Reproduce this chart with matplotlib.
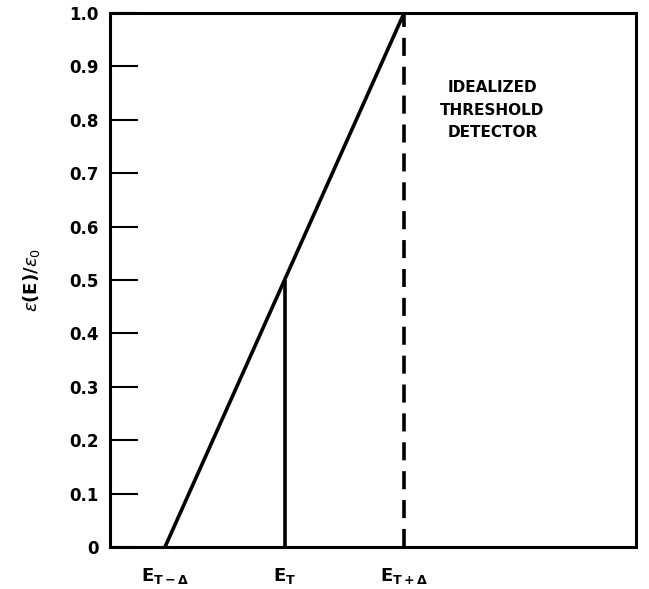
import matplotlib
matplotlib.use("Agg")
import matplotlib.pyplot as plt

# Energy axis in units of the resolution width, centred on the threshold E_T
energy_ticks = [-1.0, 0.0, 1.0]
energy_labels = [r"$\mathbf{E_{T-\Delta}}$", r"$\mathbf{E_T}$", r"$\mathbf{E_{T+\Delta}}$"]

# Linear (real) detector response
ramp_energy = [-1.0, 1.0]
ramp_eff = [0.0, 1.0]

# Threshold marker at E_T
thresh_energy = [0.0, 0.0]
thresh_eff = [0.0, 0.5]

# Idealized step detector edge at E_T + Delta
ideal_energy = [1.0, 1.0]
ideal_eff = [0.0, 1.0]

y_ticks = [0, 0.1, 0.2, 0.3, 0.4, 0.5, 0.6, 0.7, 0.8, 0.9, 1.0]
y_labels = ["0", "0.1", "0.2", "0.3", "0.4", "0.5", "0.6", "0.7", "0.8", "0.9", "1.0"]

fig = plt.figure(figsize=(6.49, 5.89), dpi=100)
ax = fig.add_axes([110 / 649, 42 / 589, 526 / 649, 534 / 589])

lw = 2.6
ax.plot(ramp_energy, ramp_eff, color="black", lw=lw, solid_capstyle="butt")
ax.plot(thresh_energy, thresh_eff, color="black", lw=lw, solid_capstyle="butt")
ax.plot(ideal_energy, ideal_eff, color="black", lw=lw, linestyle=(0, (5, 3)))

ax.set_xlim(-1.46, 2.94)
ax.set_ylim(0, 1.0)

ax.set_yticks(y_ticks)
ax.set_yticklabels(y_labels, fontsize=12, fontweight="bold")
ax.tick_params(axis="y", direction="in", length=20, width=1.5, pad=8)

ax.set_xticks(energy_ticks)
ax.set_xticklabels(energy_labels, fontsize=13)
ax.tick_params(axis="x", length=0, pad=14)

for s in ax.spines.values():
    s.set_linewidth(2.2)

ax.set_ylabel(r"$\epsilon$(E)/$\epsilon_0$", fontsize=13, fontweight="bold", labelpad=20)

ax.text(1.74, 0.818, "IDEALIZED\nTHRESHOLD\nDETECTOR", ha="center", va="center",
        fontsize=11, fontweight="bold", linespacing=1.6)

fig.savefig("out.png", dpi=100)
